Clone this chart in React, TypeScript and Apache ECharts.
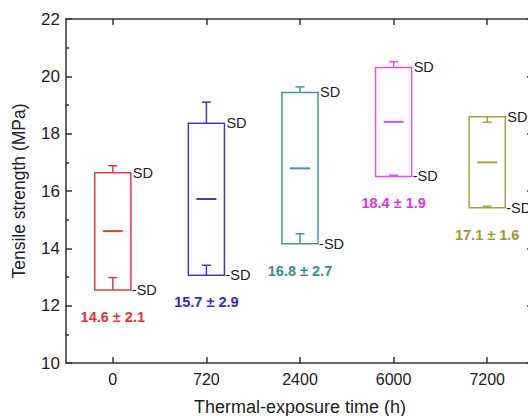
import React, { useEffect, useRef } from "react";
import * as echarts from "echarts";

const categories = ["0", "720", "2400", "6000", "7200"];
const boxTop = [16.64, 18.36, 19.44, 20.31, 18.59];
const boxBottom = [12.55, 13.06, 14.16, 16.51, 15.42];
const meanLine = [14.6, 15.72, 16.79, 18.41, 17.0];
const whiskerHigh = [16.88, 19.1, 19.63, 20.51, 18.4];
const whiskerLow = [12.98, 13.41, 14.51, 16.55, 15.47];
const labelMeans = ["14.6", "15.7", "16.8", "18.4", "17.1"];
const labelSDs = ["2.1", "2.9", "2.7", "1.9", "1.6"];

const boxColors = ["#d9403a", "#3b3bd1", "#3c9a9a", "#e64ce6", "#a3a345"];
const labelColors = ["#e8322f", "#2b2bcf", "#2f8f8f", "#e033e0", "#9c9c2c"];

const FONT = "'Liberation Sans', Arial, Helvetica, sans-serif";

export default function App() {
  const ref = useRef<HTMLDivElement>(null);
  useEffect(() => {
    if (!ref.current) return;
    const chart = echarts.init(ref.current, undefined, { renderer: "svg" });
    const data = categories.map((_, i) => [
      i,
      boxTop[i],
      boxBottom[i],
      meanLine[i],
      whiskerHigh[i],
      whiskerLow[i],
    ]);
    const axisLineStyle = { color: "#333", width: 1.5 };
    const option: any = {
      animation: false,
      grid: { left: 66, right: -6, top: 19, bottom: 53, containLabel: false, outerBoundsMode: "none" },
      xAxis: [
        {
          type: "category",
          data: categories,
          position: "bottom",
          axisLine: { show: true, lineStyle: axisLineStyle },
          axisTick: { show: true, inside: true, alignWithLabel: true, length: 6, lineStyle: { color: "#333", width: 1.5 } },
          axisLabel: { fontSize: 16, color: "#222", margin: 8, fontFamily: FONT },
          splitLine: { show: false },
          name: "Thermal-exposure time (h)",
          nameLocation: "middle",
          nameGap: 35,
          nameTextStyle: { fontSize: 18, color: "#222", fontFamily: FONT },
        },
        {
          type: "category",
          data: categories,
          position: "top",
          axisLine: { show: true, lineStyle: axisLineStyle },
          axisTick: { show: true, inside: true, alignWithLabel: true, length: 6, lineStyle: { color: "#333", width: 1.5 } },
          axisLabel: { show: false },
          splitLine: { show: false },
        },
      ],
      yAxis: [
        {
          type: "value",
          min: 10,
          max: 22,
          interval: 2,
          position: "left",
          axisLine: { show: true, lineStyle: axisLineStyle },
          axisTick: { show: true, inside: true, length: 6, lineStyle: { color: "#333", width: 1.5 } },
          minorTick: { show: true, splitNumber: 2, length: 3, lineStyle: { color: "#333", width: 1.5 } },
          axisLabel: { fontSize: 17, color: "#222", margin: 6, fontFamily: FONT },
          splitLine: { show: false },
          name: "Tensile strength (MPa)",
          nameLocation: "middle",
          nameGap: 38,
          nameTextStyle: { fontSize: 17.5, color: "#222", fontFamily: FONT },
        },
        {
          type: "value",
          min: 10,
          max: 22,
          interval: 2,
          position: "right",
          axisLine: { show: true, lineStyle: axisLineStyle },
          axisTick: { show: true, inside: true, length: 7, lineStyle: { color: "#333", width: 1.5 } },
          axisLabel: { show: false },
          splitLine: { show: false },
        },
      ],
      series: [
        {
          type: "custom",
          xAxisIndex: 0,
          yAxisIndex: 0,
          data,
          renderItem: (params: any, api: any) => {
            const i = api.value(0);
            const idx = params.dataIndex;
            const top = api.coord([i, api.value(1)]);
            const bot = api.coord([i, api.value(2)]);
            const mean = api.coord([i, api.value(3)]);
            const hi = api.coord([i, api.value(4)]);
            const lo = api.coord([i, api.value(5)]);
            const band = api.size([1, 0])[0];
            const bw = band * 0.386;
            const x = top[0];
            const color = boxColors[idx];
            const stroke = { stroke: color, lineWidth: 1.5, fill: "none" };
            const cap = 4.5;
            return {
              type: "group",
              children: [
                {
                  type: "rect",
                  shape: { x: x - bw / 2, y: top[1], width: bw, height: bot[1] - top[1] },
                  style: { ...stroke },
                },
                {
                  type: "line",
                  shape: { x1: x - 10, y1: mean[1], x2: x + 10, y2: mean[1] },
                  style: { stroke: color, lineWidth: 2 },
                },
                {
                  type: "line",
                  shape: { x1: x, y1: top[1], x2: x, y2: hi[1] },
                  style: { ...stroke },
                },
                {
                  type: "line",
                  shape: { x1: x - cap, y1: hi[1], x2: x + cap, y2: hi[1] },
                  style: { ...stroke },
                },
                {
                  type: "line",
                  shape: { x1: x, y1: bot[1], x2: x, y2: lo[1] },
                  style: { ...stroke },
                },
                {
                  type: "line",
                  shape: { x1: x - cap, y1: lo[1], x2: x + cap, y2: lo[1] },
                  style: { ...stroke },
                },
                {
                  type: "text",
                  style: {
                    text: "SD",
                    x: x + bw / 2 + 2,
                    y: top[1],
                    align: "left",
                    verticalAlign: "middle",
                    fontSize: 14.5,
                    fontFamily: FONT,
                    fill: "#222",
                  },
                },
                {
                  type: "text",
                  style: {
                    text: "-SD",
                    x: x + bw / 2 + 1,
                    y: bot[1],
                    align: "left",
                    verticalAlign: "middle",
                    fontSize: 14.5,
                    fontFamily: FONT,
                    fill: "#222",
                  },
                },
                {
                  type: "text",
                  style: {
                    text: labelMeans[idx] + " \u00b1 " + labelSDs[idx],
                    x: x,
                    y: bot[1] + 27,
                    align: "center",
                    verticalAlign: "middle",
                    fontSize: 14.5,
                    fontWeight: "bold",
                    fontFamily: FONT,
                    fill: labelColors[idx],
                  },
                },
              ],
            };
          },
        },
      ],
    };
    chart.setOption(option);
    return () => chart.dispose();
  }, []);
  return (
    <div
      ref={ref}
      style={{ position: "absolute", left: 0, top: 0, width: 528, height: 416, background: "#fff" }}
    />
  );
}
